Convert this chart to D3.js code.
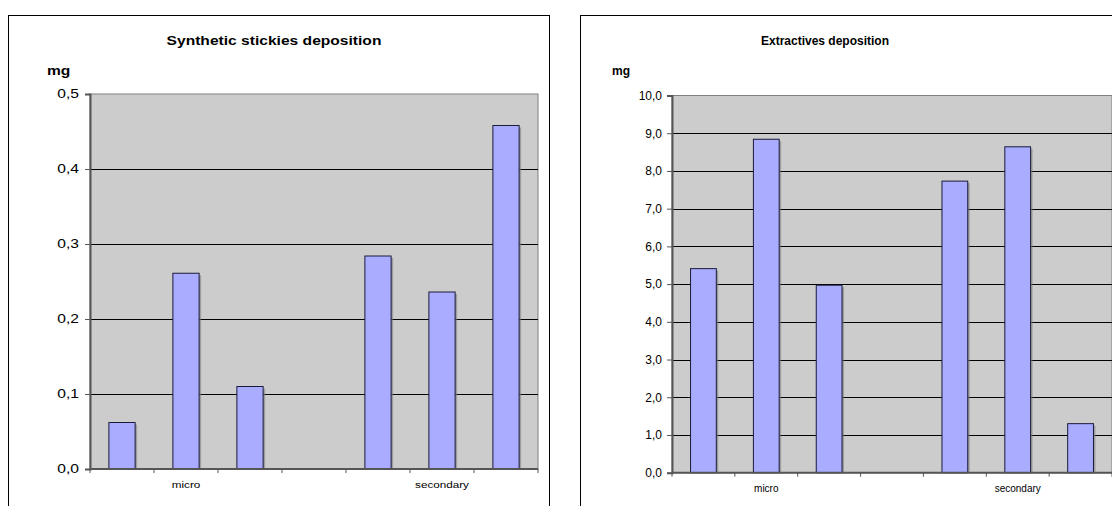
<!DOCTYPE html>
<html>
<head>
<meta charset="utf-8">
<script src="https://cdn.jsdelivr.net/npm/d3@7"></script>
<style>
  html, body { margin: 0; padding: 0; background: #ffffff; }
  svg { display: block; font-family: Arial, "Liberation Sans", sans-serif; }
</style>
</head>
<body>
<svg id="chart" width="1112" height="506"></svg>
<script>
// ---- data ----
const categories = ["", "micro", "", "", "", "secondary", ""];
const stickiesValues = [0.062, 0.261, 0.110, null, 0.284, 0.236, 0.458];
const extractivesValues = [5.41, 8.84, 4.97, null, 7.73, 8.64, 1.30];
const stickiesTicks = [0, 0.1, 0.2, 0.3, 0.4, 0.5];
const extractivesTicks = [0, 1, 2, 3, 4, 5, 6, 7, 8, 9, 10];
const titles = ["Synthetic stickies deposition", "Extractives deposition"];
const unitLabel = "mg";

const svg = d3.select("#chart");
const fmt = v => d3.format(".1f")(v).replace(".", ",");

function drawChart(opt) {
  const g = svg.append("g");
  const sx = opt.textStretch;
  // outer chart frame
  g.append("rect")
    .attr("x", opt.frame.x + 0.5).attr("y", opt.frame.y + 0.5)
    .attr("width", opt.frame.w).attr("height", opt.frame.h)
    .attr("fill", "#fff").attr("stroke", "#000").attr("stroke-width", 1);

  const idx = d3.range(categories.length);
  const x = d3.scaleBand().domain(idx).range([opt.plot.x0, opt.plot.x1]).paddingInner(0).paddingOuter(0);
  const y = d3.scaleLinear().domain([0, d3.max(opt.ticks)]).range([opt.plot.y1, opt.plot.y0]);

  // plot area
  g.append("rect")
    .attr("x", opt.plot.x0).attr("y", opt.plot.y0)
    .attr("width", opt.plot.x1 - opt.plot.x0).attr("height", opt.plot.y1 - opt.plot.y0)
    .attr("fill", "#cccccc").attr("stroke", "#808080").attr("stroke-width", 1);

  // gridlines
  g.selectAll(".grid").data(opt.ticks.slice(1, -1)).enter().append("line")
    .attr("x1", opt.plot.x0).attr("x2", opt.plot.x1)
    .attr("y1", d => Math.round(y(d)) + 0.5).attr("y2", d => Math.round(y(d)) + 0.5)
    .attr("stroke", "#000").attr("stroke-width", 1);

  // bars
  const bw = x.bandwidth() * 0.41;
  const barData = opt.values.map((v, i) => ({ v, i })).filter(d => d.v != null);
  g.selectAll(".shadow").data(barData).enter().append("rect")
    .attr("x", d => x(d.i) + (x.bandwidth() - bw) / 2 + 2)
    .attr("y", d => y(d.v) + 2)
    .attr("width", bw).attr("height", d => y(0) - y(d.v) - 2)
    .attr("fill", "#7f7f7f").attr("opacity", 0.6);
  g.selectAll(".bar").data(barData).enter().append("rect")
    .attr("x", d => x(d.i) + (x.bandwidth() - bw) / 2)
    .attr("y", d => y(d.v))
    .attr("width", bw).attr("height", d => y(0) - y(d.v))
    .attr("fill", "#a9acff").attr("stroke", "#1a1a3a").attr("stroke-width", 1);

  // y axis
  const yAxis = d3.axisLeft(y).tickValues(opt.ticks).tickFormat(fmt).tickSize(5).tickPadding(4);
  const ya = g.append("g").attr("transform", `translate(${opt.plot.x0},0)`).call(yAxis);
  ya.select(".domain").attr("stroke", "#555").attr("stroke-width", 2);
  ya.selectAll(".tick line").attr("stroke", "#555");
  ya.selectAll(".tick text").attr("font-size", 12).attr("fill", "#000")
    .attr("font-family", "Arial, 'Liberation Sans', sans-serif")
    .attr("x", 0)
    .attr("transform", `translate(-${opt.labelGap},0) scale(${sx},1)`);

  // x axis: ticks at band boundaries, labels at band centres
  const bounds = idx.map(i => x(i)).concat([opt.plot.x1]);
  const xa = g.append("g");
  xa.append("line").attr("x1", opt.plot.x0).attr("x2", opt.plot.x1)
    .attr("y1", opt.plot.y1).attr("y2", opt.plot.y1)
    .attr("stroke", "#555").attr("stroke-width", 2);
  xa.selectAll(".xt").data(bounds).enter().append("line")
    .attr("x1", d => d).attr("x2", d => d)
    .attr("y1", opt.plot.y1).attr("y2", opt.plot.y1 + 4)
    .attr("stroke", "#555");
  xa.selectAll(".xl").data(idx.filter(i => categories[i] !== "")).enter().append("text")
    .attr("transform", i => `translate(${x(i) + x.bandwidth() / 2},${opt.plot.y1 + 19}) scale(${sx},1)`)
    .attr("text-anchor", "middle").attr("font-size", opt.xFont).attr("fill", "#000")
    .text(i => categories[i]);

  // title and unit
  g.append("text").attr("transform", `translate(${opt.titleX},45) scale(${sx},1)`)
    .attr("text-anchor", "middle").attr("font-size", 12).attr("font-weight", "bold")
    .text(opt.title);
  g.append("text").attr("transform", `translate(${opt.unitX},75) scale(${sx},1)`)
    .attr("font-size", 12).attr("font-weight", "bold").text(unitLabel);
}

drawChart({
  frame: { x: 8, y: 15, w: 541, h: 520 },
  plot: { x0: 90, x1: 538, y0: 94, y1: 469 },
  ticks: stickiesTicks, values: stickiesValues,
  title: titles[0], titleX: 274, unitX: 47,
  textStretch: 1.3, labelGap: 11, xFont: 9
});
drawChart({
  frame: { x: 580, y: 15, w: 560, h: 520 },
  plot: { x0: 672, x1: 1112, y0: 95.5, y1: 472.7 },
  ticks: extractivesTicks, values: extractivesValues,
  title: titles[1], titleX: 825, unitX: 612,
  textStretch: 1.0, labelGap: 10, xFont: 10
});
</script>
</body>
</html>
